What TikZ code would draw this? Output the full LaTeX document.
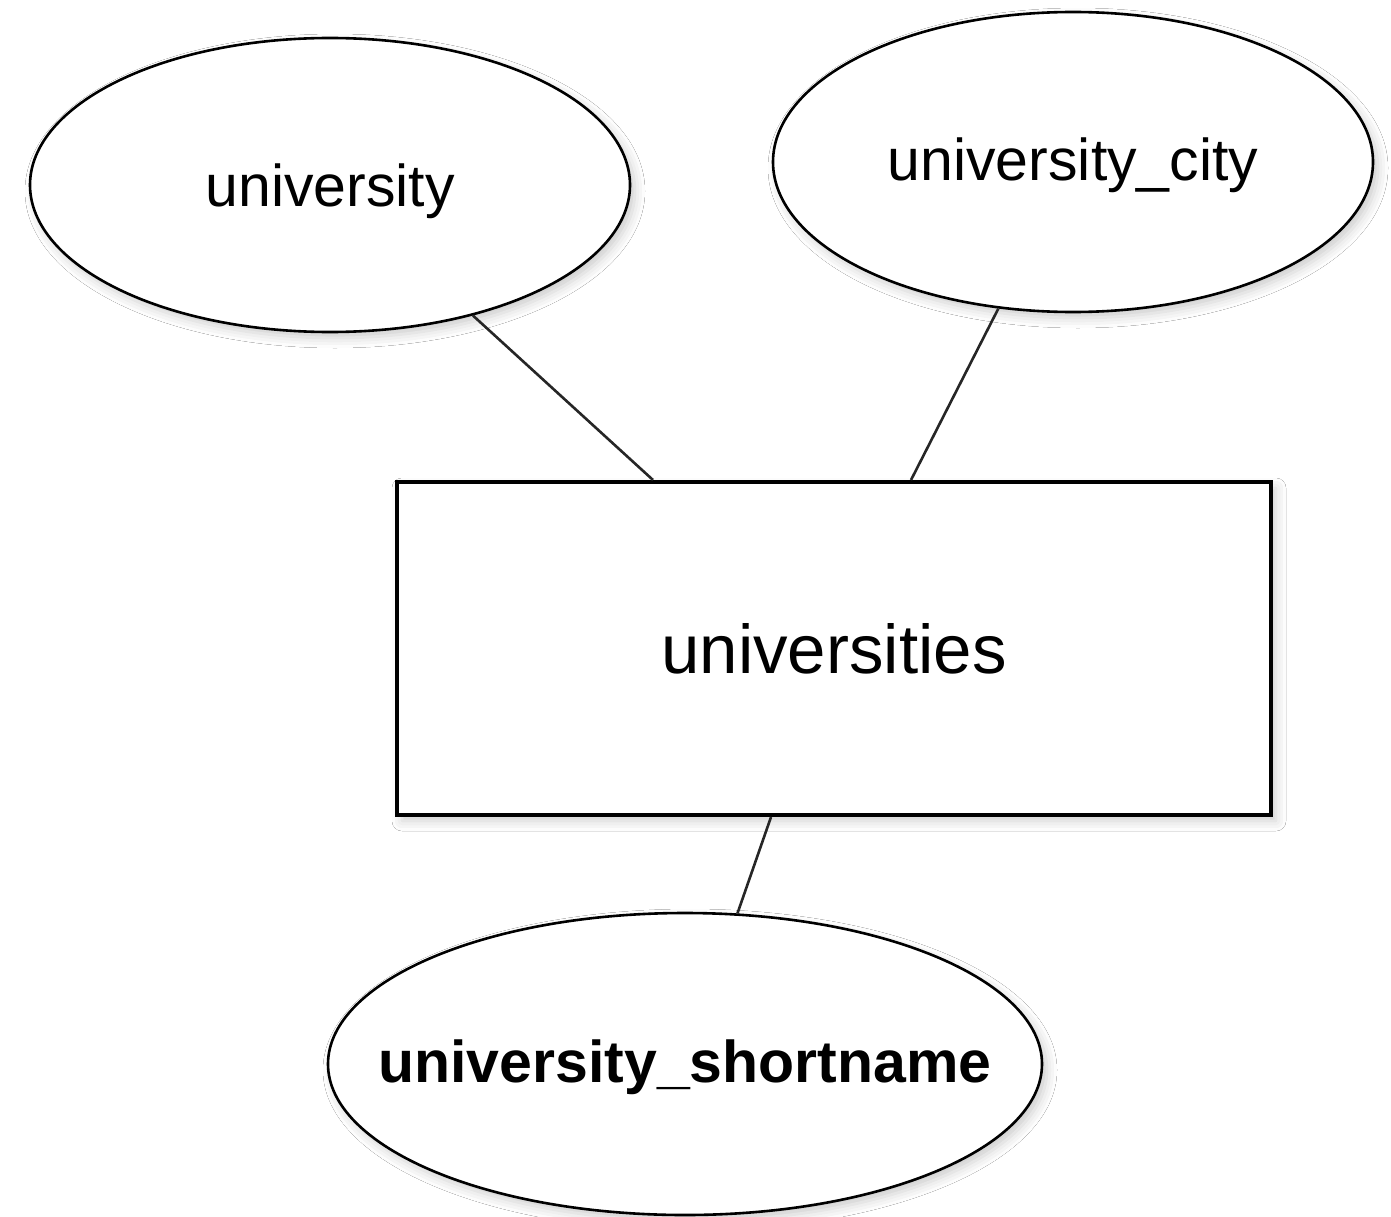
\documentclass[tikz,border=0pt]{standalone}
\usepackage{fontspec}
\setmainfont{Liberation Sans}
\usetikzlibrary{shapes.geometric,shadows.blur}
\begin{document}
\begin{tikzpicture}[x=1pt,y=-1pt,
  soft/.style={blur shadow={shadow xshift=5pt,shadow yshift=-6pt,shadow blur radius=10pt,shadow opacity=20}},
  attr/.style={ellipse,draw=black,line width=2.6pt,fill=white,soft,inner sep=0pt},
  attrtext/.style={font=\fontsize{59}{66}\selectfont},
  entity/.style={rectangle,draw=black,line width=4pt,fill=white,soft,inner sep=0pt,font=\fontsize{69}{76}\selectfont},
  link/.style={draw=black!85,line width=2.6pt}]
\useasboundingbox (0,0) rectangle (1391,1217);
\fill[white] (0,0) rectangle (1391,1217);
\node[attr,minimum width=600pt,minimum height=294pt,label={[attrtext,yshift=-6pt]center:university}] (uni) at (330,185) {};
\node[attr,minimum width=600pt,minimum height=300pt,label={[attrtext,yshift=-3pt]center:university\_city}] (city) at (1073,162) {};
\node[attr,minimum width=714pt,minimum height=302pt,label={[attrtext,yshift=-3pt]center:\bfseries university\_shortname}] (short) at (685,1064) {};
\node[entity,minimum width=874pt,minimum height=333pt] (rect) at (834,648.5) {universities};
\draw[link] (uni) -- ([xshift=258pt]rect.north west);
\draw[link] (city) -- ([xshift=516pt]rect.north west);
\draw[link] (short) -- ([xshift=376pt]rect.south west);
\end{tikzpicture}
\end{document}
